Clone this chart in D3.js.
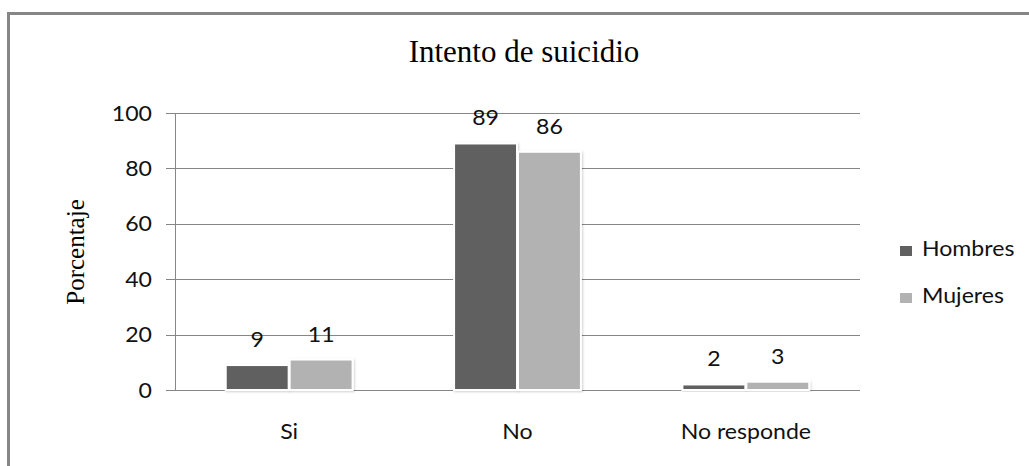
<!DOCTYPE html>
<html>
<head>
<meta charset="utf-8">
<script src="https://cdn.jsdelivr.net/npm/d3@7"></script>
<style>
html,body{margin:0;padding:0;background:#fff;}
svg{display:block;}
</style>
</head>
<body>
<svg id="chart" width="1029" height="466"></svg>
<script>
const categories = ["Si", "No", "No responde"];
const seriesNames = ["Hombres", "Mujeres"];
const hombres = [9, 89, 2];
const mujeres = [11, 86, 3];
const yTicks = [0, 20, 40, 60, 80, 100];
const titleText = "Intento de suicidio";
const yLabelText = "Porcentaje";

const colors = {Hombres: "#606060", Mujeres: "#b2b2b2"};
const seriesValues = {Hombres: hombres, Mujeres: mujeres};
const SANS = "Lato, 'Open Sans', sans-serif";
const SX = 1.1; // horizontal stretch of sans text

const svg = d3.select("#chart");
const defs = svg.append("defs");
const f = defs.append("filter").attr("id","sh").attr("x","-10%").attr("y","-10%").attr("width","130%").attr("height","130%");
f.append("feDropShadow").attr("dx",1).attr("dy",1).attr("stdDeviation",1.2).attr("flood-color","#000").attr("flood-opacity",0.18);

// outer border
svg.append("rect").attr("x",8.5).attr("y",13.5).attr("width",1040).attr("height",470)
  .attr("fill","none").attr("stroke","#868686").attr("stroke-width",3);

const pLeft = 175, pRight = 860, pTop = 113, pBottom = 390;
const x = d3.scaleBand().domain(categories).range([pLeft, pRight]).paddingInner(0.44).paddingOuter(0.22);
const xs = d3.scaleBand().domain(seriesNames).range([0, x.bandwidth()]);
const y = d3.scaleLinear().domain([0, 100]).range([pBottom, pTop]);

// gridlines
svg.append("g").selectAll("line").data(yTicks).join("line")
  .attr("x1", pLeft - 9).attr("x2", pRight)
  .attr("y1", d => Math.round(y(d)) + 0.5).attr("y2", d => Math.round(y(d)) + 0.5)
  .attr("stroke", "#868686").attr("stroke-width", 1);

// y axis line
svg.append("line").attr("x1", pLeft + 0.5).attr("x2", pLeft + 0.5).attr("y1", pTop).attr("y2", pBottom)
  .attr("stroke", "#868686").attr("stroke-width", 1);

function sansText(sel, px, py, anchor) {
  return sel.attr("transform", (d, i) => `translate(${px(d, i)},${py(d, i)}) scale(${SX},1)`)
    .attr("text-anchor", anchor).attr("font-family", SANS)
    .attr("font-size", 21).attr("fill", "#111");
}

// y tick labels
sansText(svg.append("g").selectAll("text").data(yTicks).join("text"), () => 152, d => y(d), "end")
  .attr("dy", "0.36em").text(d => d);

// bars
const groups = svg.append("g").selectAll("g").data(categories).join("g")
  .attr("transform", d => `translate(${x(d)},0)`);
groups.selectAll("rect").data((c, i) => seriesNames.map(s => ({s, v: seriesValues[s][i]}))).join("rect")
  .attr("x", d => xs(d.s) + 0.5).attr("width", xs.bandwidth() - 1)
  .attr("y", d => y(d.v)).attr("height", d => y(0) - y(d.v))
  .attr("fill", d => colors[d.s]).attr("stroke", "#fff").attr("stroke-width", 2)
  .attr("filter", "url(#sh)");

// value labels
sansText(groups.selectAll("text").data((c, i) => seriesNames.map(s => ({s, v: seriesValues[s][i]}))).join("text"),
  d => xs(d.s) + xs.bandwidth() / 2, d => y(d.v) - 18, "middle").text(d => d.v);

// category labels
sansText(svg.append("g").selectAll("text").data(categories).join("text"),
  d => x(d) + x.bandwidth() / 2, () => 439, "middle").text(d => d);

// title
svg.append("text").attr("x", 524).attr("y", 62).attr("text-anchor", "middle")
  .attr("font-family", "'Liberation Serif', 'Times New Roman', serif").attr("font-size", 31)
  .attr("fill", "#000").text(titleText);

// y label
svg.append("text").attr("transform", "translate(84,252) rotate(-90)").attr("text-anchor", "middle")
  .attr("font-family", "'Liberation Serif', 'Times New Roman', serif").attr("font-size", 25)
  .attr("fill", "#000").text(yLabelText);

// legend
const legend = svg.append("g").selectAll("g").data(seriesNames).join("g")
  .attr("transform", (d, i) => `translate(900,${246 + i * 47})`);
legend.append("rect").attr("width", 12).attr("height", 10).attr("fill", d => colors[d]);
sansText(legend.append("text"), () => 22, () => 10, "start").text(d => d);
</script>
</body>
</html>
